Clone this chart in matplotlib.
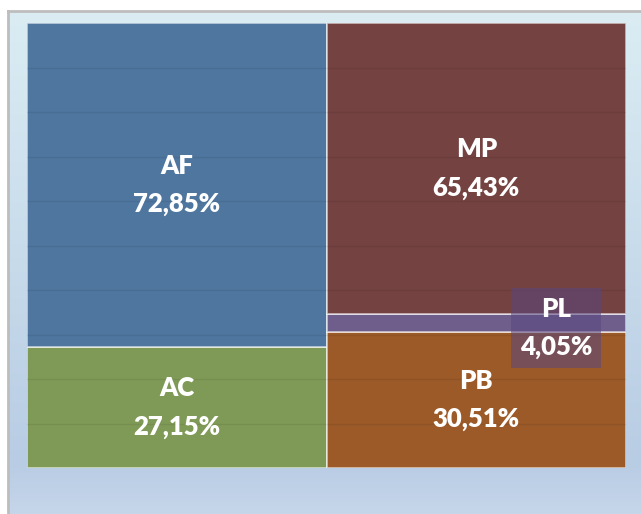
import numpy as np
import matplotlib
matplotlib.use("Agg")
import matplotlib.pyplot as plt
from matplotlib.colors import LinearSegmentedColormap

# ---- data ----
columns = ["Left", "Right"]
left_labels = ["AC", "AF"]
left_values = [27.15, 72.85]
right_labels = ["PB", "PL", "MP"]
right_values = [30.51, 4.05, 65.43]
left_colors = ["#7f9a57", "#4f769f"]
right_colors = ["#9b5a28", "#6f5e8c", "#744241"]

plt.rcParams['font.family'] = ['Lato', 'DejaVu Sans']

W, H = 641, 514
fig = plt.figure(figsize=(W / 100, H / 100), dpi=100)
fig.patch.set_facecolor("white")

# background panel with gradient
bg = fig.add_axes([8 / W, 0, (W - 8) / W, (H - 11) / H])
grad_cmap = LinearSegmentedColormap.from_list(
    "g", [(0.0, (219/255, 237/255, 243/255)),
          (0.9, (184/255, 204/255, 228/255)),
          (1.0, (198/255, 214/255, 234/255))])
grad = np.linspace(0, 1, 256).reshape(-1, 1)
bg.imshow(grad, aspect="auto", cmap=grad_cmap, extent=[0, 1, 0, 1], origin="upper")
bg.set_xlim(0, 1)
bg.set_ylim(0, 1)
bg.set_xticks([])
bg.set_yticks([])
for s in ["right", "bottom"]:
    bg.spines[s].set_visible(False)
for s in ["top", "left"]:
    bg.spines[s].set_color("#bdbdbd")
    bg.spines[s].set_linewidth(2)

# main axes
ax = fig.add_axes([27 / W, 1 - 468 / H, (626 - 27) / W, (468 - 23) / H])
ax.set_facecolor("none")
ax.set_xlim(-0.5, 1.5)
ax.set_ylim(0, 100)

def stack(x, labels, values, colors):
    bottom = 0
    mids = []
    for lab, v, c in zip(labels, values, colors):
        ax.bar(x, v, bottom=bottom, width=1.0, color=c,
               edgecolor=(1, 1, 1, 0.65), linewidth=1.2, zorder=2)
        mids.append(bottom + v / 2)
        bottom += v
    return mids

lm = stack(0, left_labels, left_values, left_colors)
rm = stack(1, right_labels, right_values, right_colors)

# faint gridlines visible through bars
for gy in range(10, 100, 10):
    ax.axhline(gy, color="black", alpha=0.07, lw=1, zorder=3)

fs = 18.5
fw = "heavy"
ls = 1.7
def fmt(v):
    return f"{v:.2f}".replace(".", ",") + "%"

for lab, v, m in zip(left_labels, left_values, lm):
    ax.text(0, m, f"{lab}\n{fmt(v)}", ha="center", va="center", color="white",
            fontsize=fs, fontweight=fw, linespacing=ls, zorder=5)

for lab, v, m in zip(right_labels, right_values, rm):
    if lab == "PL":
        ax.text(1.266, m - 1.0, f"{lab}\n{fmt(v)}", ha="center", va="center",
                color="white", fontsize=fs, fontweight=fw, linespacing=ls,
                zorder=5,
                bbox=dict(boxstyle="square,pad=0.35", fc=(0.35, 0.28, 0.50, 0.55),
                          ec="none"))
    else:
        ax.text(1, m, f"{lab}\n{fmt(v)}", ha="center", va="center", color="white",
                fontsize=fs, fontweight=fw, linespacing=ls, zorder=5)

ax.set_xticks([])
ax.set_yticks([])
for s in ax.spines.values():
    s.set_visible(False)

fig.savefig("out.png", dpi=100)
